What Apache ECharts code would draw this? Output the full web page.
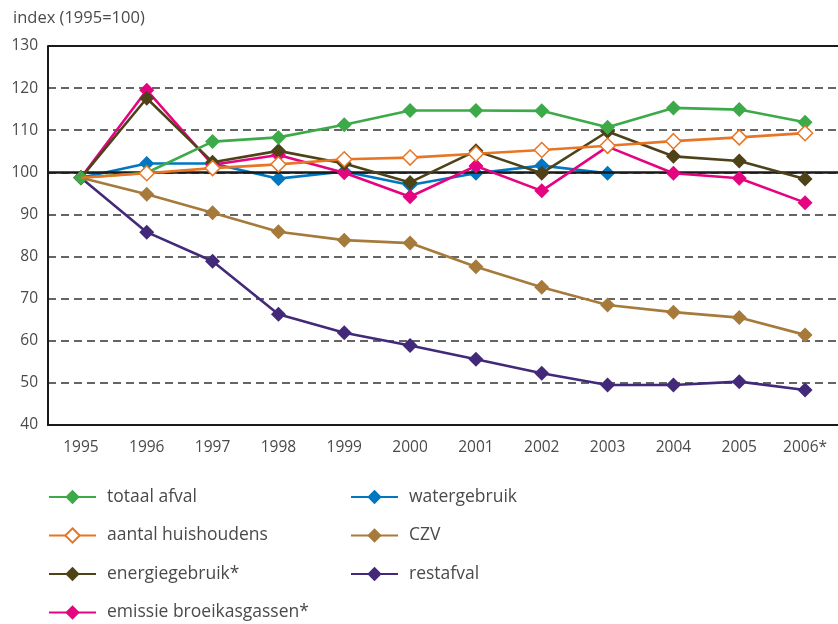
<!DOCTYPE html>
<html><head><meta charset="utf-8">
<script src="https://cdn.jsdelivr.net/npm/echarts@6/dist/echarts.min.js"></script>
<style>html,body{margin:0;padding:0;background:#fff}#c{width:838px;height:624px}</style>
</head><body><div id="c"></div>
<script>
const years = ['1995','1996','1997','1998','1999','2000','2001','2002','2003','2004','2005','2006*'];
const totaalAfval = [98.7, 99.9, 107.3, 108.3, 111.3, 114.7, 114.7, 114.6, 110.7, 115.3, 114.9, 111.9];
const aantalHuishoudens = [98.7, 99.8, 101.0, 101.9, 103.1, 103.5, 104.4, 105.3, 106.3, 107.4, 108.3, 109.3];
const energiegebruik = [98.7, 117.6, 102.4, 105.1, 102.1, 97.6, 105.1, 99.8, 109.7, 103.8, 102.7, 98.4];
const emissie = [98.7, 119.5, 101.8, 104.1, 99.9, 94.2, 101.5, 95.6, 106.1, 99.8, 98.6, 92.8];
const watergebruik = [98.7, 102.1, 102.1, 98.5, 100.2, 97.0, 99.8, 101.6, 99.8, null, null, null];
const czv = [98.7, 94.8, 90.4, 85.9, 83.9, 83.2, 77.6, 72.7, 68.5, 66.8, 65.5, 61.4];
const restafval = [98.7, 85.8, 78.9, 66.3, 61.9, 58.9, 55.6, 52.3, 49.5, 49.5, 50.3, 48.3];
const yTicks = [40, 130, 10];

const FONT = '"Open Sans", "DejaVu Sans", sans-serif';
const TXT = '#4a4a4a';

function mk(name, data, color, z, hollow, skipFirst) {
  return {
    name, type: 'line', z,
    data: data.map((v, i) => (skipFirst && i === 0) ? {value: v, symbol: 'none'} : v),
    symbol: 'diamond', symbolSize: 15,
    lineStyle: {color, width: 2.6},
    itemStyle: hollow ? {color: '#fff', borderColor: color, borderWidth: 1.5} : {color, borderWidth: 0},
    emphasis: {disabled: true}, animation: false
  };
}

const series = [
  mk('restafval', restafval, '#42297a', 2),
  mk('CZV', czv, '#a67a3a', 3),
  mk('watergebruik', watergebruik, '#0077c0', 4),
  mk('emissie broeikasgassen*', emissie, '#e5047f', 5),
  mk('energiegebruik*', energiegebruik, '#4e4219', 6),
  mk('totaal afval', totaalAfval, '#3caa48', 7),
  mk('aantal huishoudens', aantalHuishoudens, '#e87524', 8, true, true)
];
series[0].markLine = {
  silent: true, symbol: 'none', label: {show: false}, animation: false,
  data: [
    {yAxis: 100, lineStyle: {color: '#1a1a1a', width: 2.6, type: 'solid'}},
    {yAxis: 130, lineStyle: {color: '#1a1a1a', width: 2, type: 'solid'}}
  ]
};

const legendBase = {
  orient: 'vertical', itemWidth: 47, itemHeight: 18, itemGap: 20.5, top: 488,
  textStyle: {fontFamily: FONT, fontSize: 17.5, color: TXT, padding: [0, 0, 0, 6]},
  selectedMode: false, padding: 0
};

const option = {
  backgroundColor: '#fff',
  animation: false,
  title: {text: 'index (1995=100)', left: 8, top: 5,
    textStyle: {fontFamily: FONT, fontSize: 16.5, fontWeight: 'normal', color: TXT}},
  grid: {left: 48, right: 0, top: 46, bottom: 199, containLabel: false},
  legend: [
    Object.assign({}, legendBase, {left: 48, data: ['totaal afval', 'aantal huishoudens', 'energiegebruik*', 'emissie broeikasgassen*']}),
    Object.assign({}, legendBase, {left: 350, data: ['watergebruik', 'CZV', 'restafval']})
  ],
  xAxis: {
    type: 'category', data: years, boundaryGap: true,
    axisLine: {lineStyle: {color: '#1a1a1a', width: 2}},
    axisTick: {inside: true, length: 9, interval: 0, lineStyle: {color: '#1a1a1a', width: 1.5}},
    axisLabel: {fontFamily: FONT, fontSize: 15.5, color: TXT, margin: 15, interval: 0}
  },
  yAxis: {
    type: 'value', min: yTicks[0], max: yTicks[1], interval: yTicks[2],
    axisLine: {show: true, lineStyle: {color: '#1a1a1a', width: 2}},
    axisTick: {show: false},
    axisLabel: {fontFamily: FONT, fontSize: 15.5, color: TXT, margin: 10},
    splitLine: {lineStyle: {color: '#333', width: 1.5, type: [8, 5]}}
  },
  series
};
echarts.init(document.getElementById('c'), null, {renderer: 'canvas'}).setOption(option);
</script></body></html>
